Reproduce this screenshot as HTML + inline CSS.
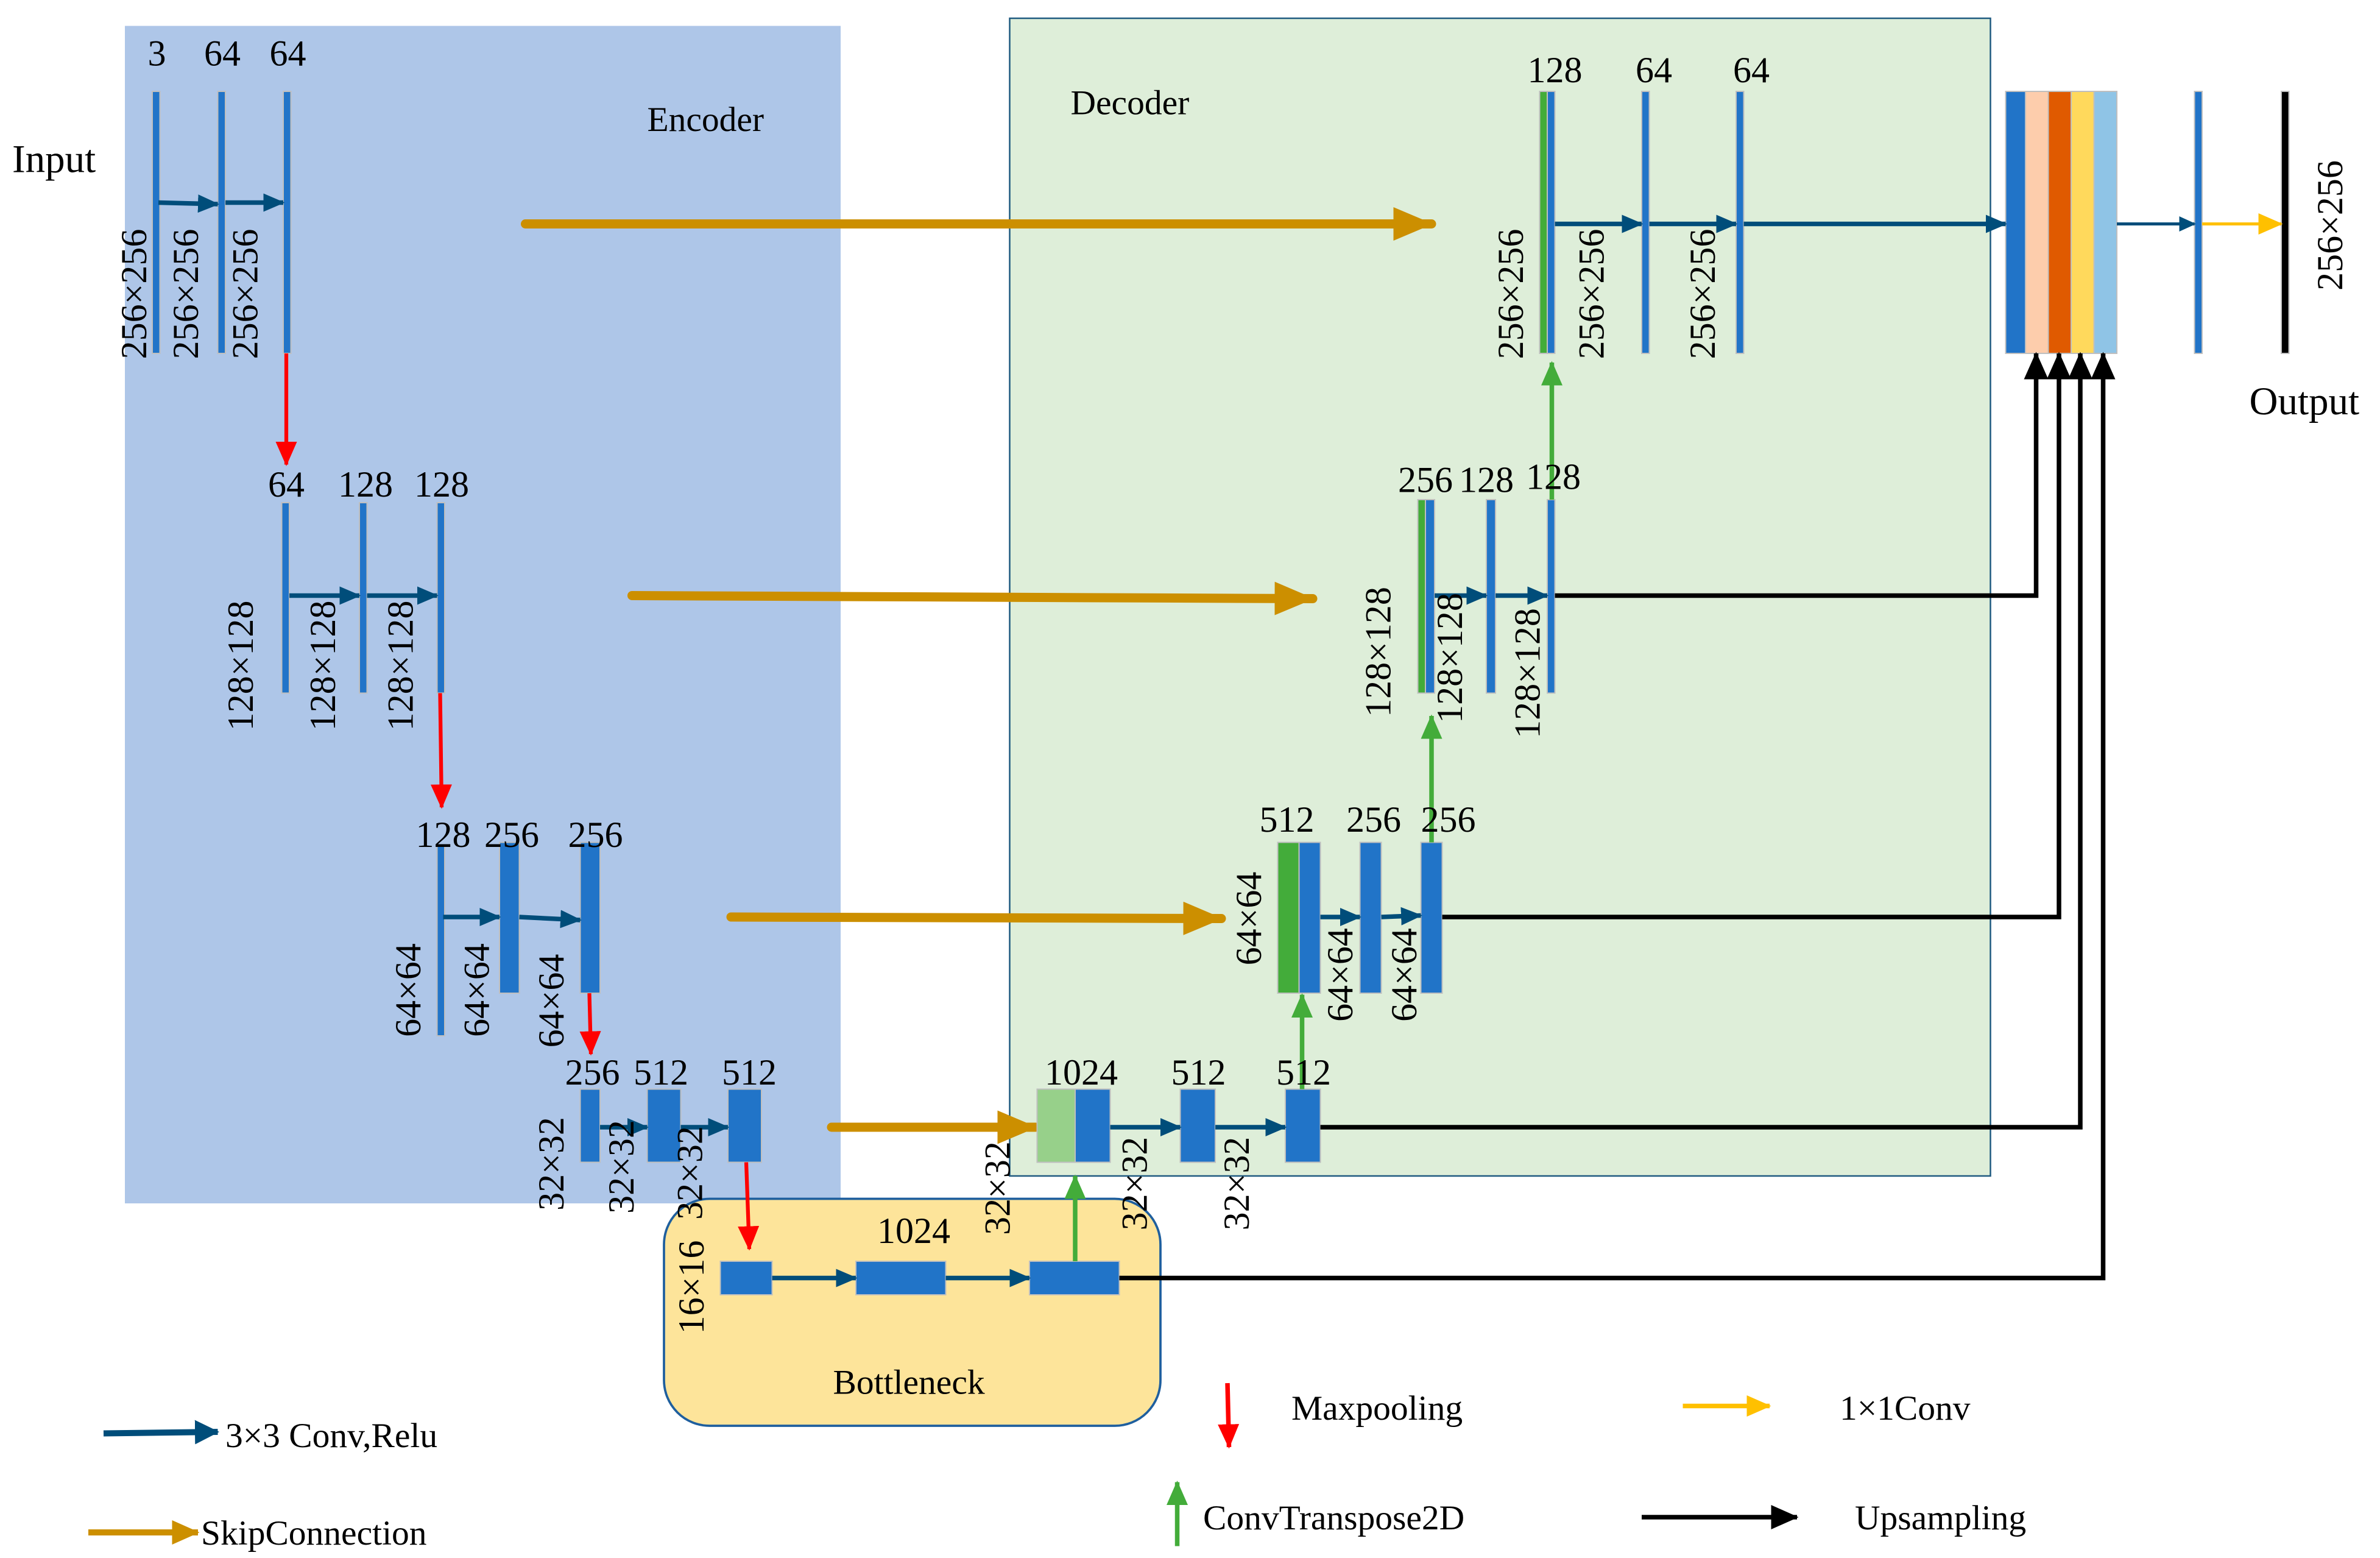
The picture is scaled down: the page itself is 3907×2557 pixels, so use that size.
<!DOCTYPE html>
<html><head><meta charset="utf-8"><style>
html,body{margin:0;padding:0;background:#fff;}
svg{display:block;}
text{font-family:"Liberation Serif",serif;fill:#000;}
</style></head><body>
<svg width="3907" height="2557" viewBox="0 0 1562.8 1022.8" xmlns="http://www.w3.org/2000/svg">
<defs>
<marker id="mb" markerWidth="14" markerHeight="12" refX="13" refY="6" orient="auto" markerUnits="userSpaceOnUse" viewBox="0 0 14 12"><path d="M0,0 L14,6 L0,12z" fill="#004d7a"/></marker>
<marker id="mbs" markerWidth="11" markerHeight="10" refX="10" refY="5" orient="auto" markerUnits="userSpaceOnUse" viewBox="0 0 11 10"><path d="M0,0 L11,5 L0,10z" fill="#004d7a"/></marker>
<marker id="mbb" markerWidth="16" markerHeight="16" refX="15" refY="8" orient="auto" markerUnits="userSpaceOnUse" viewBox="0 0 16 16"><path d="M0,0 L16,8 L0,16z" fill="#004d7a"/></marker>
<marker id="mg" markerWidth="26" markerHeight="22" refX="25" refY="11" orient="auto" markerUnits="userSpaceOnUse" viewBox="0 0 26 22"><path d="M0,0 L26,11 L0,22z" fill="#cc8f00"/></marker>
<marker id="mgs" markerWidth="18" markerHeight="16" refX="17" refY="8" orient="auto" markerUnits="userSpaceOnUse" viewBox="0 0 18 16"><path d="M0,0 L18,8 L0,16z" fill="#cc8f00"/></marker>
<marker id="mr" markerWidth="16" markerHeight="14" refX="15" refY="7" orient="auto" markerUnits="userSpaceOnUse" viewBox="0 0 16 14"><path d="M0,0 L16,7 L0,14z" fill="#ff0000"/></marker>
<marker id="mgr" markerWidth="16" markerHeight="14" refX="15" refY="7" orient="auto" markerUnits="userSpaceOnUse" viewBox="0 0 16 14"><path d="M0,0 L16,7 L0,14z" fill="#43ac3a"/></marker>
<marker id="mk" markerWidth="18" markerHeight="16" refX="17" refY="8" orient="auto" markerUnits="userSpaceOnUse" viewBox="0 0 18 16"><path d="M0,0 L18,8 L0,16z" fill="#000"/></marker>
<marker id="my" markerWidth="16" markerHeight="14" refX="15" refY="7" orient="auto" markerUnits="userSpaceOnUse" viewBox="0 0 16 14"><path d="M0,0 L16,7 L0,14z" fill="#ffc000"/></marker>
</defs>

<rect x="82" y="17" width="470" height="773" fill="#aec6e8"/>
<rect x="663" y="12" width="644" height="760" fill="#deeed9" stroke="#1f5a80" stroke-width="1"/>
<rect x="436" y="787" width="326" height="149" rx="30" fill="#fde49a" stroke="#1f5f9e" stroke-width="1.5"/>

<text x="425" y="86" font-size="23">Encoder</text>
<text x="703" y="75" font-size="23">Decoder</text>
<text x="8" y="113" font-size="26">Input</text>
<text x="1477" y="272" font-size="26">Output</text>
<text x="547" y="915" font-size="23">Bottleneck</text>

<g stroke="#cc8f00" stroke-width="6" stroke-linecap="round" marker-end="url(#mg)">
<line x1="345" y1="147" x2="940" y2="147"/>
<line x1="415" y1="391" x2="862" y2="393"/>
<line x1="480" y1="602" x2="802" y2="603"/>
<line x1="546" y1="740" x2="680" y2="740"/>
</g>

<g fill="#2174c8" stroke="#bfbfbf" stroke-width="0.8">
<rect x="100" y="60" width="5" height="172"/>
<rect x="143" y="60" width="5" height="172"/>
<rect x="186" y="60" width="5" height="172"/>
<rect x="185" y="330" width="5" height="125"/>
<rect x="236" y="330" width="5" height="125"/>
<rect x="287" y="330" width="5" height="125"/>
<rect x="287" y="555" width="5" height="125"/>
<rect x="328" y="553" width="13" height="99"/>
<rect x="381" y="553" width="13" height="99"/>
<rect x="381" y="715" width="13" height="48"/>
<rect x="425" y="715" width="22" height="48"/>
<rect x="478" y="715" width="22" height="48"/>
<rect x="473" y="828" width="34" height="22"/>
<rect x="562" y="828" width="59" height="22"/>
<rect x="676" y="828" width="59" height="22"/>
<rect x="681" y="715" width="25" height="48" fill="#97d08a"/>
<rect x="706" y="715" width="23" height="48"/>
<rect x="775" y="715" width="23" height="48"/>
<rect x="844" y="715" width="23" height="48"/>
<rect x="839" y="553" width="14" height="99" fill="#43ac3a"/>
<rect x="853" y="553" width="14" height="99"/>
<rect x="893" y="553" width="14" height="99"/>
<rect x="933" y="553" width="14" height="99"/>
<rect x="931" y="328" width="5" height="127" fill="#43ac3a"/>
<rect x="936" y="328" width="6" height="127"/>
<rect x="976" y="328" width="6" height="127"/>
<rect x="1016" y="328" width="5" height="127"/>
<rect x="1011" y="60" width="5" height="172" fill="#43ac3a"/>
<rect x="1016" y="60" width="5" height="172"/>
<rect x="1078" y="60" width="5" height="172"/>
<rect x="1140" y="60" width="5" height="172"/>
<rect x="1317" y="60" width="13" height="172"/>
<rect x="1330" y="60" width="15" height="172" fill="#fdcdac"/>
<rect x="1345" y="60" width="15" height="172" fill="#e05a00"/>
<rect x="1360" y="60" width="15" height="172" fill="#ffd95c"/>
<rect x="1375" y="60" width="15" height="172" fill="#8fc4e6"/>
<rect x="1441" y="60" width="5" height="172"/>
<rect x="1498" y="60" width="5" height="172" fill="#000"/>
</g>

<g stroke="#004d7a" stroke-width="3" marker-end="url(#mb)">
<line x1="104" y1="133" x2="143" y2="134"/>
<line x1="148" y1="133" x2="186" y2="133"/>
<line x1="190" y1="391" x2="236" y2="391"/>
<line x1="241" y1="391" x2="287" y2="391"/>
<line x1="291" y1="602" x2="328" y2="602"/>
<line x1="341" y1="602" x2="381" y2="604"/>
<line x1="394" y1="740" x2="425" y2="740"/>
<line x1="447" y1="740" x2="478" y2="740"/>
<line x1="507" y1="839" x2="562" y2="839"/>
<line x1="621" y1="839" x2="676" y2="839"/>
<line x1="729" y1="740" x2="775" y2="740"/>
<line x1="798" y1="740" x2="844" y2="740"/>
<line x1="867" y1="602" x2="893" y2="602"/>
<line x1="907" y1="602" x2="933" y2="601"/>
<line x1="942" y1="391" x2="976" y2="391"/>
<line x1="982" y1="391" x2="1016" y2="391"/>
<line x1="1021" y1="147" x2="1078" y2="147"/>
<line x1="1083" y1="147" x2="1140" y2="147"/>
<line x1="1145" y1="147" x2="1317" y2="147"/>
</g>
<line x1="1390" y1="147" x2="1441" y2="147" stroke="#004d7a" stroke-width="2" marker-end="url(#mbs)"/>
<line x1="1446" y1="147" x2="1498" y2="147" stroke="#ffc000" stroke-width="2" marker-end="url(#my)"/>

<g stroke="#ff0000" stroke-width="2.5" marker-end="url(#mr)">
<line x1="188" y1="232" x2="188" y2="305"/>
<line x1="289" y1="455" x2="290" y2="530"/>
<line x1="387" y1="652" x2="388" y2="692"/>
<line x1="490" y1="763" x2="492" y2="820"/>
</g>
<g stroke="#43ac3a" stroke-width="3" marker-end="url(#mgr)">
<line x1="706" y1="828" x2="706" y2="772"/>
<line x1="855" y1="715" x2="855" y2="653"/>
<line x1="940" y1="553" x2="940" y2="470"/>
<line x1="1019" y1="328" x2="1019" y2="238"/>
</g>

<g stroke="#000" stroke-width="3" fill="none" marker-end="url(#mk)">
<polyline points="1021,391 1337,391 1337,232"/>
<polyline points="947,602 1352,602 1352,232"/>
<polyline points="867,740 1366,740 1366,232"/>
<polyline points="735,839 1381,839 1381,232"/>
</g>

<g font-size="24" text-anchor="middle">
<text x="103" y="43">3</text><text x="146" y="43">64</text><text x="189" y="43">64</text>
<text x="188" y="326">64</text><text x="240" y="326">128</text><text x="290" y="326">128</text>
<text x="291" y="556">128</text><text x="336" y="556">256</text><text x="391" y="556">256</text>
<text x="389" y="712">256</text><text x="434" y="712">512</text><text x="492" y="712">512</text>
<text x="600" y="816">1024</text>
<text x="710" y="712">1024</text><text x="787" y="712">512</text><text x="856" y="712">512</text>
<text x="845" y="546">512</text><text x="902" y="546">256</text><text x="951" y="546">256</text>
<text x="936" y="323">256</text><text x="976" y="323">128</text><text x="1020" y="321">128</text>
<text x="1021" y="54">128</text><text x="1086" y="54">64</text><text x="1150" y="54">64</text>
</g>

<g font-size="24" text-anchor="middle">
<text transform="translate(96,193) rotate(-90)">256×256</text>
<text transform="translate(130,193) rotate(-90)">256×256</text>
<text transform="translate(169,193) rotate(-90)">256×256</text>
<text transform="translate(166,437) rotate(-90)">128×128</text>
<text transform="translate(220,437) rotate(-90)">128×128</text>
<text transform="translate(271,437) rotate(-90)">128×128</text>
<text transform="translate(276,650) rotate(-90)">64×64</text>
<text transform="translate(321,650) rotate(-90)">64×64</text>
<text transform="translate(370,657) rotate(-90)">64×64</text>
<text transform="translate(370,764) rotate(-90)">32×32</text>
<text transform="translate(416,766) rotate(-90)">32×32</text>
<text transform="translate(461,770) rotate(-90)">32×32</text>
<text transform="translate(462,845) rotate(-90)">16×16</text>
<text transform="translate(663,780) rotate(-90)">32×32</text>
<text transform="translate(753,777) rotate(-90)">32×32</text>
<text transform="translate(820,777) rotate(-90)">32×32</text>
<text transform="translate(828,603) rotate(-90)">64×64</text>
<text transform="translate(888,640) rotate(-90)">64×64</text>
<text transform="translate(930,640) rotate(-90)">64×64</text>
<text transform="translate(913,428) rotate(-90)">128×128</text>
<text transform="translate(960,432) rotate(-90)">128×128</text>
<text transform="translate(1011,442) rotate(-90)">128×128</text>
<text transform="translate(1000,193) rotate(-90)">256×256</text>
<text transform="translate(1053,193) rotate(-90)">256×256</text>
<text transform="translate(1126,193) rotate(-90)">256×256</text>
<text transform="translate(1538,148) rotate(-90)">256×256</text>
</g>

<line x1="68" y1="941" x2="143" y2="940" stroke="#004d7a" stroke-width="4" marker-end="url(#mbb)"/>
<text x="148" y="950" font-size="23">3×3 Conv,Relu</text>
<line x1="58" y1="1006" x2="130" y2="1006" stroke="#cc8f00" stroke-width="4" marker-end="url(#mgs)"/>
<text x="132" y="1014" font-size="23">SkipConnection</text>
<line x1="806" y1="908" x2="807" y2="950" stroke="#ff0000" stroke-width="3" marker-end="url(#mr)"/>
<text x="848" y="932" font-size="23">Maxpooling</text>
<line x1="773" y1="1015" x2="773" y2="973" stroke="#43ac3a" stroke-width="3" marker-end="url(#mgr)"/>
<text x="790" y="1004" font-size="23">ConvTranspose2D</text>
<line x1="1105" y1="923" x2="1162" y2="923" stroke="#ffc000" stroke-width="3" marker-end="url(#my)"/>
<text x="1208" y="932" font-size="23">1×1Conv</text>
<line x1="1078" y1="996" x2="1180" y2="996" stroke="#000" stroke-width="3" marker-end="url(#mk)"/>
<text x="1218" y="1004" font-size="23">Upsampling</text>
</svg>
</body></html>
